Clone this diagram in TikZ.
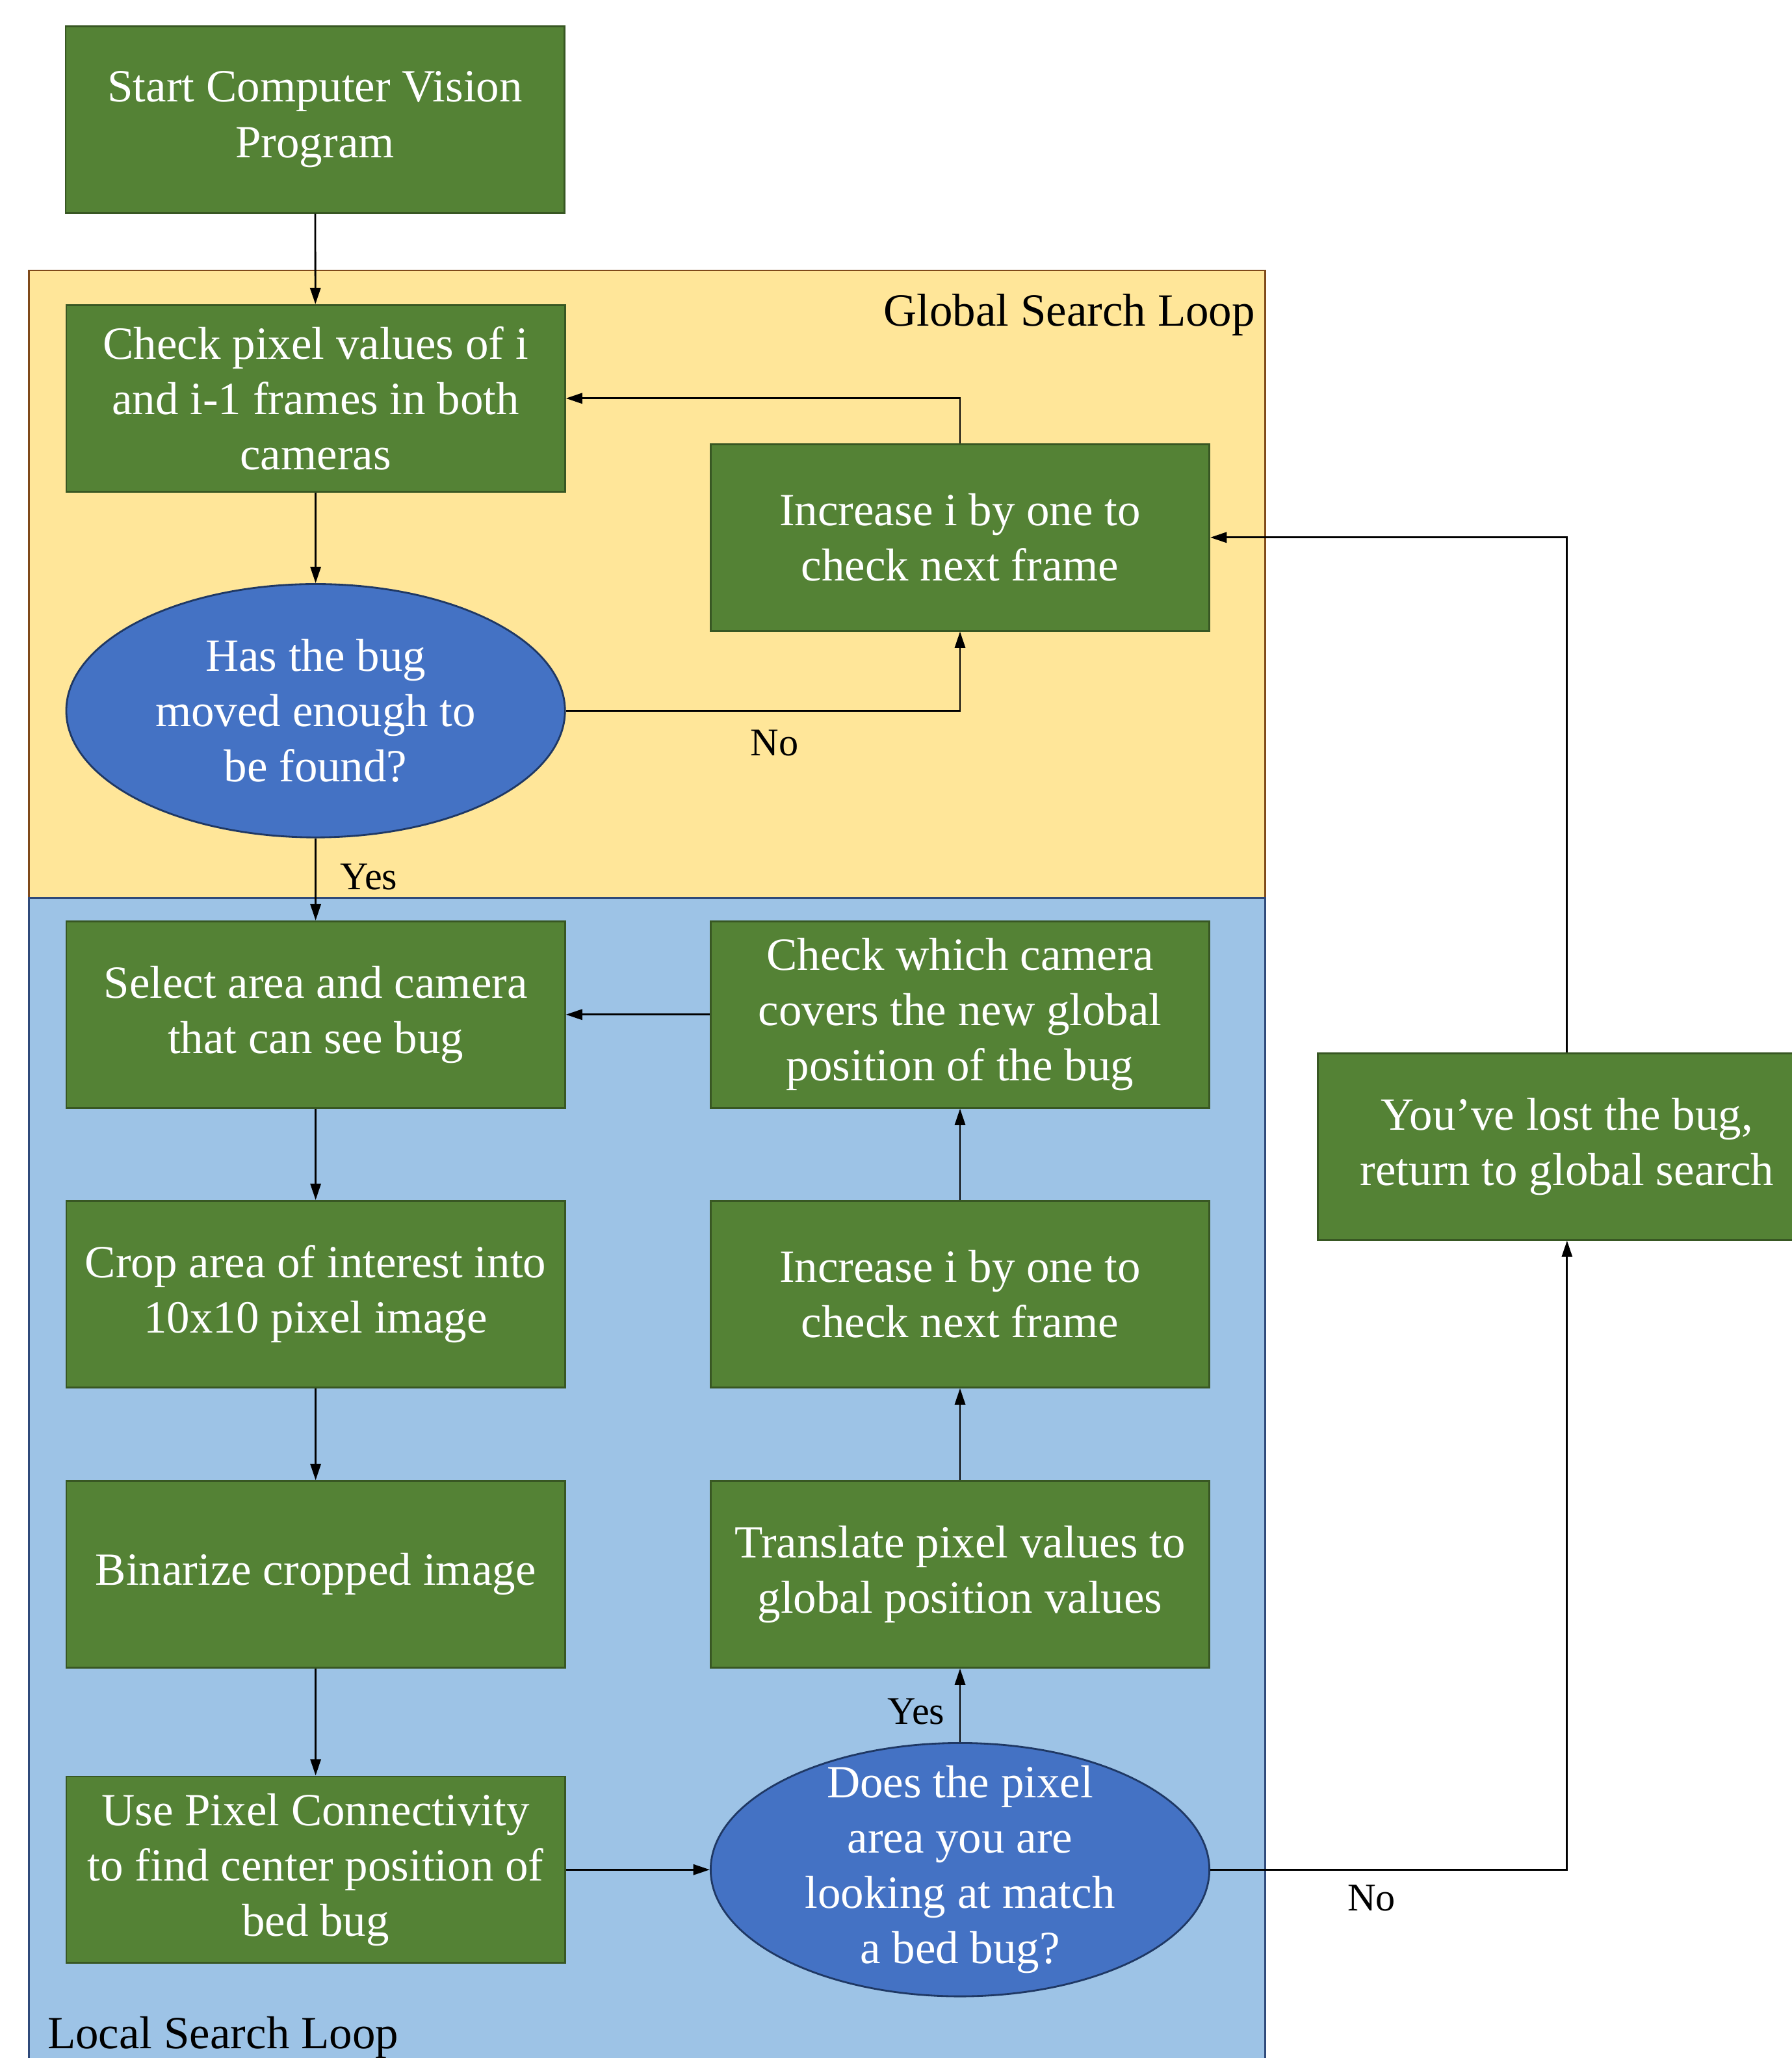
\documentclass[tikz,border=0pt]{standalone}
\usepackage{fontspec}
\setmainfont{Liberation Serif}
\usepackage{tikz}
\usetikzlibrary{shapes.geometric,arrows.meta}
\definecolor{boxgreen}{HTML}{548235}
\definecolor{boxline}{HTML}{385723}
\definecolor{askblue}{HTML}{4472C4}
\definecolor{askline}{HTML}{1F3864}
\definecolor{globfill}{HTML}{FFE699}
\definecolor{globline}{HTML}{7F4A1A}
\definecolor{locfill}{HTML}{9DC3E6}
\definecolor{locline}{HTML}{2F4A7A}

\begin{document}
\begin{tikzpicture}[
    stepbox/.style={rectangle,draw=boxline,fill=boxgreen,line width=0.8pt,text=white,
      minimum width=7.6cm,minimum height=2.84cm,align=center,inner sep=0pt,
      font=\fontsize{20}{24}\selectfont},
    askbox/.style={ellipse,draw=askline,fill=askblue,line width=0.8pt,text=white,
      minimum width=7.6cm,minimum height=3.86cm,align=center,inner sep=0pt,
      font=\fontsize{20}{24}\selectfont},
    flow/.style={-{Triangle[length=2.5mm,width=1.6mm]},line width=0.8pt},
    answer/.style={font=\fontsize{17}{20}\selectfont}]
      \useasboundingbox (0,0) rectangle (27.3,-31.36);

      % the two loops
      \fill[globfill] (0.44,-4.12) rectangle (19.28,-13.68);
      \draw[globline,line width=0.8pt] (0.44,-13.68) -- (0.44,-4.12) -- (19.28,-4.12) -- (19.28,-13.68);
      \fill[locfill] (0.44,-13.68) rectangle (19.28,-32);
      \draw[locline,line width=0.8pt] (0.44,-32) -- (0.44,-13.68) -- (19.28,-13.68) -- (19.28,-32);
      \node (glob) at (19.25,-4.8) [anchor=east,font=\fontsize{20}{24}\selectfont] {Global Search Loop};
      \node (loc) at (0.6,-31.05) [anchor=west,font=\fontsize{20}{24}\selectfont] {Local Search Loop};

      \node (start) at (4.8,-1.82) [stepbox] {Start Computer Vision\\Program};
      \node (check) at (4.81,-6.07) [stepbox] {Check pixel values of i\\and i-1 frames in both\\cameras};
      \node (incg) at (14.63,-8.19) [stepbox] {Increase i by one to\\check next frame};
      \node (moved) at (4.81,-10.83) [askbox] {Has the bug\\moved enough to\\be found?};

      \node (select) at (4.81,-15.46) [stepbox] {Select area and camera\\that can see bug};
      \node (camera) at (14.63,-15.46) [stepbox] {Check which camera\\covers the new global\\position of the bug};
      \node (crop) at (4.81,-19.72) [stepbox] {Crop area of interest into\\10x10 pixel image};
      \node (incl) at (14.63,-19.72) [stepbox] {Increase i by one to\\check next frame};
      \node (binar) at (4.81,-23.99) [stepbox] {Binarize cropped image};
      \node (transl) at (14.63,-23.99) [stepbox] {Translate pixel values to\\global position values};
      \node (usepix) at (4.81,-28.49) [stepbox] {Use Pixel Connectivity\\to find center position of\\bed bug};
      \node (match) at (14.63,-28.49) [askbox,inner ysep=-0.25cm] {Does the pixel\\area you are\\looking at match\\a bed bug?};

      \node (lost) at (23.88,-17.47) [stepbox] {You’ve lost the bug,\\return to global search};

      \node (no1) at (11.8,-11.32) [answer] {No};
      \node (yes1) at (5.62,-13.36) [answer] {Yes};
      \node (yes2) at (13.96,-26.08) [answer] {Yes};
      \node (no2) at (20.9,-28.92) [answer] {No};

      \draw[flow] (start) -- (check);
      \draw[flow] (check) -- (moved);
      \draw[flow] (moved.east) -| (incg.south);
      \draw[flow] (incg.north) |- (check.east);
      \draw[flow] (moved) -- (select);
      \draw[flow] (select) -- (crop);
      \draw[flow] (crop) -- (binar);
      \draw[flow] (binar) -- (usepix);
      \draw[flow] (usepix) -- (match);
      \draw[flow] (match) -- (transl);
      \draw[flow] (transl) -- (incl);
      \draw[flow] (incl) -- (camera);
      \draw[flow] (camera) -- (select);
      \draw[flow] (match.east) -| (lost.south);
      \draw[flow] (lost.north) |- (incg.east);

    \end{tikzpicture}
\end{document}
